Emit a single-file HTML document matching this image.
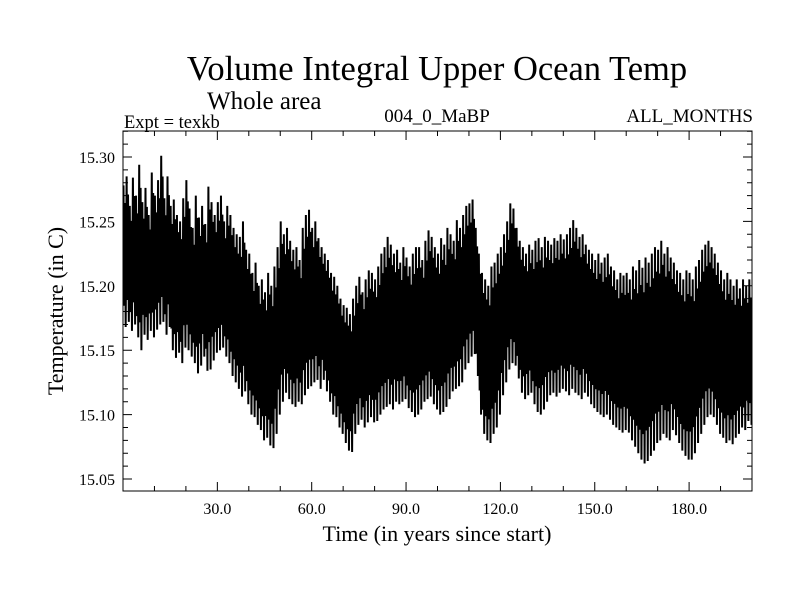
<!DOCTYPE html>
<html><head><meta charset="utf-8"><style>
body{margin:0;background:#fff}
svg{display:block;font-family:"Liberation Serif",serif}
</style></head><body>
<svg id="c" width="800" height="600" viewBox="0 0 800 600">
<text x="437" y="80" font-size="34.5" text-anchor="middle">Volume Integral Upper Ocean Temp</text>
<text x="207" y="109" font-size="25">Whole area</text>
<text x="124" y="128" font-size="18.5">Expt = texkb</text>
<text x="437" y="122" font-size="19" text-anchor="middle">004_0_MaBP</text>
<text x="753" y="122" font-size="19" text-anchor="end">ALL_MONTHS</text>
<text x="437" y="541" font-size="22" text-anchor="middle">Time (in years since start)</text>
<text transform="translate(63,311) rotate(-90)" font-size="22" text-anchor="middle">Temperature (in C)</text>
<g id="series"></g>
<g id="axes"></g>
</svg>
<script>
const hi=[15.278,15.285,15.262,15.284,15.270,15.294,15.265,15.276,15.255,15.288,
15.270,15.282,15.301,15.268,15.285,15.262,15.267,15.255,15.250,15.268,
15.282,15.260,15.245,15.270,15.253,15.262,15.248,15.277,15.265,15.255,
15.265,15.270,15.250,15.262,15.255,15.245,15.240,15.238,15.250,15.228,
15.225,15.210,15.218,15.200,15.205,15.195,15.210,15.200,15.215,15.230,
15.250,15.240,15.245,15.235,15.228,15.230,15.220,15.245,15.255,15.259,
15.245,15.250,15.237,15.230,15.225,15.220,15.210,15.207,15.200,15.190,
15.185,15.183,15.178,15.190,15.200,15.207,15.195,15.205,15.212,15.210,
15.205,15.215,15.225,15.230,15.238,15.232,15.225,15.228,15.218,15.230,
15.222,15.215,15.225,15.230,15.230,15.220,15.235,15.243,15.238,15.230,
15.225,15.237,15.232,15.245,15.240,15.235,15.251,15.245,15.255,15.262,
15.264,15.267,15.245,15.225,15.210,15.205,15.200,15.215,15.218,15.225,
15.230,15.240,15.250,15.264,15.260,15.245,15.235,15.230,15.225,15.232,
15.228,15.235,15.237,15.230,15.238,15.235,15.232,15.237,15.235,15.240,
15.236,15.240,15.245,15.251,15.245,15.238,15.240,15.232,15.228,15.225,
15.220,15.225,15.218,15.222,15.225,15.215,15.212,15.205,15.210,15.208,
15.210,15.205,15.215,15.212,15.220,15.214,15.222,15.218,15.225,15.230,
15.228,15.235,15.225,15.230,15.222,15.218,15.212,15.210,15.205,15.212,
15.210,15.205,15.215,15.220,15.228,15.232,15.235,15.230,15.225,15.218,
15.212,15.205,15.210,15.205,15.200,15.205,15.198,15.205,15.200,15.205];
const lo=[15.168,15.172,15.165,15.170,15.160,15.150,15.162,15.158,15.165,15.160,
15.166,15.170,15.172,15.162,15.168,15.150,15.144,15.148,15.140,15.152,
15.150,15.145,15.140,15.132,15.138,15.145,15.134,15.135,15.142,15.148,
15.150,15.152,15.145,15.140,15.130,15.125,15.120,15.114,15.118,15.108,
15.100,15.098,15.092,15.088,15.080,15.082,15.076,15.074,15.085,15.100,
15.110,15.117,15.112,15.108,15.106,15.110,15.108,15.115,15.120,15.122,
15.125,15.127,15.120,15.127,15.118,15.110,15.100,15.098,15.090,15.085,
15.078,15.072,15.071,15.085,15.092,15.096,15.090,15.094,15.098,15.094,
15.095,15.100,15.104,15.106,15.108,15.104,15.110,15.108,15.110,15.112,
15.105,15.102,15.098,15.100,15.104,15.110,15.112,15.114,15.108,15.104,
15.100,15.102,15.106,15.112,15.118,15.120,15.122,15.125,15.135,15.140,
15.145,15.147,15.130,15.100,15.085,15.080,15.078,15.085,15.090,15.100,
15.115,15.125,15.135,15.140,15.138,15.128,15.117,15.112,15.115,15.117,
15.108,15.102,15.100,15.104,15.110,15.115,15.117,15.114,15.117,15.120,
15.118,15.115,15.120,15.117,15.115,15.112,15.117,15.114,15.108,15.105,
15.102,15.100,15.098,15.100,15.096,15.092,15.090,15.088,15.086,15.088,
15.086,15.080,15.075,15.070,15.065,15.062,15.064,15.068,15.072,15.078,
15.080,15.085,15.082,15.080,15.088,15.084,15.078,15.072,15.068,15.065,
15.065,15.070,15.078,15.085,15.092,15.098,15.100,15.098,15.092,15.085,
15.082,15.078,15.080,15.077,15.082,15.085,15.090,15.088,15.095,15.092];
const xTicks=[30,60,90,120,150,180];
const xTickLabels=["30.0","60.0","90.0","120.0","150.0","180.0"];
const yTicks=[15.05,15.10,15.15,15.20,15.25,15.30];
const yTickLabels=["15.05","15.10","15.15","15.20","15.25","15.30"];

const L=123,R=752,T=131,B=491;
const X0=0,X1=200,YT=15.30,YPX=157,SLOPE=1288;
const xs=t=>L+(t-X0)*(R-L)/(X1-X0);
const ys=v=>YPX-(v-YT)*SLOPE;
const NS="http://www.w3.org/2000/svg";
function mk(tag,attrs,parent){const e=document.createElementNS(NS,tag);for(const k in attrs)e.setAttribute(k,attrs[k]);parent.appendChild(e);return e;}
const sg=document.getElementById('series'),ag=document.getElementById('axes');
let d="";
for(let i=0;i<hi.length;i++){
  const m=(hi[i]+lo[i])/2,h=hi[i]-m;
  d+=(i?"L":"M")+xs(i+0.15).toFixed(2)+","+ys(hi[i]).toFixed(2)
    +"L"+xs(i+0.4).toFixed(2)+","+ys(m-0.7*h).toFixed(2)
    +"L"+xs(i+0.6).toFixed(2)+","+ys(m+0.75*h).toFixed(2)
    +"L"+xs(i+0.85).toFixed(2)+","+ys(lo[i]).toFixed(2);
}
const line=mk('path',{d:d,fill:"none",stroke:"#000","stroke-width":"2","stroke-linejoin":"miter"},sg);


const frame=mk('rect',{x:L,y:T,width:R-L,height:B-T,fill:"none",stroke:"#000","stroke-width":"1"},ag);


let td="";
for(let t=10;t<X1;t+=10){
  const x=xs(t),len=(t%30===0)?9:5;
  td+=`M${x},${B}V${B-len}M${x},${T}V${T+len}`;
}
for(let k=0;k<=28;k++){
  const v=15.04+k*0.01;const y=ys(v);
  if(y<T||y>B)continue;
  const len=(Math.round(v*100)%5===0)?9:5;
  td+=`M${L},${y}H${L+len}M${R},${y}H${R-len}`;
}
const ticks=mk('path',{d:td,stroke:"#000","stroke-width":"1",fill:"none"},ag);


xTicks.forEach((t,i)=>{
  const tx=mk('text',{x:xs(t),y:B+23,"font-size":"16","text-anchor":"middle"},ag);
  tx.textContent=xTickLabels[i];
  
  
});
yTicks.forEach((v,i)=>{
  const tx=mk('text',{x:L-8,y:ys(v)+6,"font-size":"16","text-anchor":"end"},ag);
  tx.textContent=yTickLabels[i];
  
  
});
</script>
</body></html>
